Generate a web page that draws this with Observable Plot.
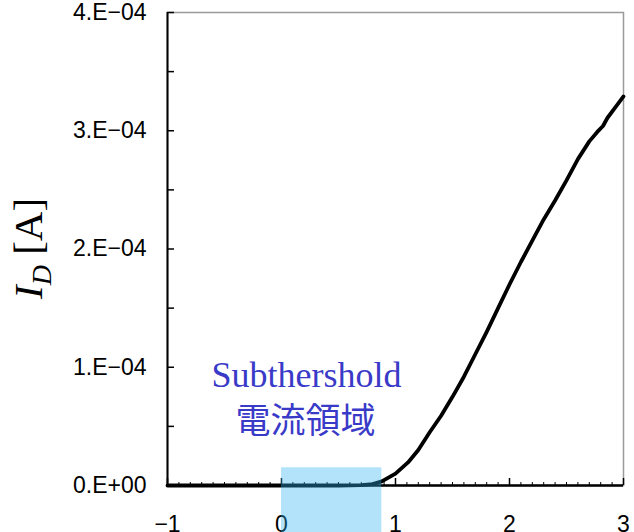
<!DOCTYPE html>
<html>
<head>
<meta charset="utf-8">
<script src="https://cdn.jsdelivr.net/npm/d3@7"></script>
<script src="https://cdn.jsdelivr.net/npm/@observablehq/plot@0.6"></script>
<style>
  body { margin: 0; background: #fff; }
  svg { display: block; }
</style>
</head>
<body>
<div id="chart"></div>
<script>
// Gate voltage V_G [V] and drain current I_D [A] of the transfer curve
const vg = [-1, -0.5, 0, 0.5, 0.7, 0.8, 0.88, 1.0, 1.11, 1.2, 1.3, 1.4, 1.5, 1.6, 1.7, 1.8, 1.9, 2.0, 2.1, 2.2, 2.3, 2.4, 2.5, 2.6, 2.7, 2.77, 2.82, 2.86, 2.93, 3.0];
const idA = [0, 0, 0, 0, 0.003e-4, 0.012e-4, 0.035e-4, 0.10e-4, 0.195e-4, 0.30e-4, 0.45e-4, 0.59e-4, 0.75e-4, 0.92e-4, 1.11e-4, 1.30e-4, 1.50e-4, 1.70e-4, 1.89e-4, 2.07e-4, 2.25e-4, 2.41e-4, 2.58e-4, 2.76e-4, 2.91e-4, 2.99e-4, 3.04e-4, 3.11e-4, 3.20e-4, 3.29e-4];

// Axis ticks and their labels
const xTicks = [-1, 0, 1, 2, 3];
const xTickLabels = ["−1", "0", "1", "2", "3"];
const xMinorTicks = d3.range(-10, 31).map(k => k / 10);
const yTicks = [0, 1e-4, 2e-4, 3e-4, 4e-4];
const yTickLabels = ["0.E+00", "1.E−04", "2.E−04", "3.E−04", "4.E−04"];
const yMinorTicks = [0.5e-4, 1.5e-4, 2.5e-4, 3.5e-4];

// Highlighted subthreshold region
const regionX = [0, 0.88];
const regionY = [-0.4e-4, 0.15e-4];

// Annotation lines
const noteText = ["Subthershold", "電流領域"];
const noteX = [0.22, 0.21];
const noteY = [0.93e-4, 0.54e-4];

const curve = vg.map((v, i) => ({vg: v, id: idA[i]}));
const xLabel = new Map(xTicks.map((t, i) => [t, xTickLabels[i]]));
const yLabel = new Map(yTicks.map((t, i) => [t, yTickLabels[i]]));
const notes = noteText.map((t, i) => ({text: t, x: noteX[i], y: noteY[i]}));
const region = [{x1: regionX[0], x2: regionX[1], y1: regionY[0], y2: regionY[1]}];

const sans = "'Liberation Sans', Arial, sans-serif";
const serif = "'Liberation Serif', 'Times New Roman', serif";

const chart = Plot.plot({
  width: 634,
  height: 532,
  marginLeft: 167,
  marginRight: 11,
  marginTop: 12,
  marginBottom: 47,
  x: {domain: [-1, 3]},
  y: {domain: [0, 4e-4]},
  style: {fontFamily: sans, fontSize: "23px", background: "#fff", color: "#000", overflow: "visible"},
  marks: [
    Plot.frame({stroke: "#9a9a9a", strokeWidth: 1.5}),
    // y axis: labels outside, ticks pointing inward
    Plot.axisY(yTicks, {tickSize: 0, tickPadding: 21, tickFormat: d => yLabel.get(d), fontSize: 23, label: null}),
    Plot.axisY(yTicks.concat(yMinorTicks), {tickSize: -7, text: null, strokeWidth: 1.5, label: null}),
    // x axis: labels outside, major and minor ticks pointing inward
    Plot.axisX(xTicks, {tickSize: 0, tickPadding: 30, tickFormat: d => xLabel.get(d), fontSize: 23, label: null}),
    Plot.axisX(xTicks, {tickSize: -7, text: null, strokeWidth: 1.5, label: null}),
    Plot.axisX(xMinorTicks, {tickSize: -3, text: null, strokeWidth: 1, label: null}),
    Plot.ruleX([-1], {stroke: "#000", strokeWidth: 2}),
    Plot.ruleY([0], {stroke: "#000", strokeWidth: 2.5}),
    Plot.line(curve, {x: "vg", y: "id", stroke: "#000", strokeWidth: 3.8, curve: "linear"}),
    Plot.text(notes.slice(0, 1), {x: "x", y: "y", text: "text", fill: "#3a3ac8", fontSize: 36, fontFamily: serif, lineAnchor: "middle"}),
    Plot.text(notes.slice(1), {x: "x", y: "y", text: "text", fill: "#3a3ac8", fontSize: 35, fontWeight: 400, fontFamily: "'Noto Sans CJK JP', sans-serif", lineAnchor: "middle"}),
    Plot.rect(region, {x1: "x1", x2: "x2", y1: "y1", y2: "y2", fill: "#30b0f5", fillOpacity: 0.37})
  ]
});

// y-axis title: italic I with subscript D, then the unit
const svg = d3.select(chart);
const title = svg.append("text")
  .attr("transform", "translate(42,299) rotate(-90)")
  .attr("text-anchor", "start")
  .attr("font-family", serif)
  .attr("font-size", 41)
  .attr("fill", "#000");
title.append("tspan").attr("font-style", "italic").text("I");
title.append("tspan").attr("font-style", "italic").attr("font-size", 28).attr("dy", 9).text("D");
title.append("tspan").attr("dy", -9).text(" [A]");

document.getElementById("chart").append(chart);
</script>
</body>
</html>
